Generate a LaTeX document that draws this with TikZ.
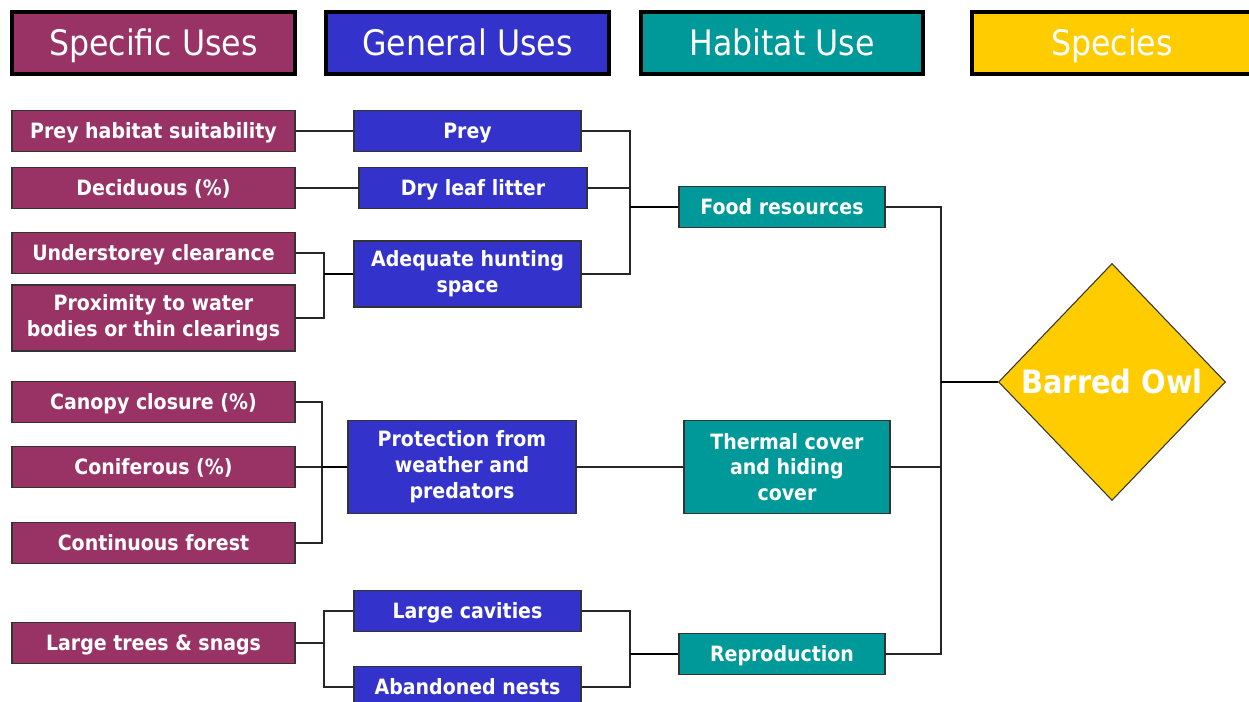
\documentclass[tikz,border=0pt]{standalone}
\usepackage{fontspec}
\setmainfont{DejaVu Sans Condensed}
\usetikzlibrary{shapes.geometric}
\definecolor{specc}{HTML}{993366}
\definecolor{genc}{HTML}{3333CC}
\definecolor{habc}{HTML}{009999}
\definecolor{spcc}{HTML}{FFCC00}
\begin{document}
\begin{tikzpicture}[x=0.02cm,y=-0.02cm,
  box/.style={draw=black!80, line width=0.7pt, text=white, font=\bfseries\fontsize{12}{14.7}\selectfont, align=center, inner sep=0pt},
  one/.style={text height=8.8pt, text depth=0pt},
  sz/.style 2 args={minimum width=#1*0.02cm, minimum height=#2*0.02cm},
  hdr/.style={draw=black, line width=2.3pt, text=white, font=\fontsize{20}{22}\selectfont, inner sep=0pt, minimum height=62*0.02cm, text height=14.6pt, text depth=0pt},
  ln/.style={black!85, line width=0.6pt},
  jn/.style={black, line width=1pt}]
\useasboundingbox (0,0) rectangle (1249,702);
\clip (0,0) rectangle (1249,702);
% headers
\node[hdr, fill=specc, minimum width=283*0.02cm] (hS) at (153.5,43) {Specific Uses};
\node[hdr, fill=genc, minimum width=283*0.02cm] (hG) at (467.5,43) {General Uses};
\node[hdr, fill=habc, minimum width=282*0.02cm] (hH) at (782,43) {Habitat Use};
\node[hdr, fill=spcc, minimum width=280*0.02cm] (hP) at (1112,43) {Species};
% specific uses
\node[box, one, fill=specc, sz={283}{41}] (s1) at (153.5,131) {Prey habitat suitability};
\node[box, one, fill=specc, sz={283}{41}] (s2) at (153.5,188) {Deciduous (\%)};
\node[box, one, fill=specc, sz={283}{41}] (s3) at (153.5,253) {Understorey clearance};
\node[box, fill=specc, sz={283}{66}] (s4) at (153.5,318) {Proximity to water\\bodies or thin clearings};
\node[box, one, fill=specc, sz={283}{41}] (s5) at (153.5,402) {Canopy closure (\%)};
\node[box, one, fill=specc, sz={283}{41}] (s6) at (153.5,467) {Coniferous (\%)};
\node[box, one, fill=specc, sz={283}{41}] (s7) at (153.5,543) {Continuous forest};
\node[box, one, fill=specc, sz={283}{41}] (s8) at (153.5,643) {Large trees \& snags};
% general uses
\node[box, one, fill=genc, sz={227}{41}] (g1) at (467.5,131) {Prey};
\node[box, one, fill=genc, sz={228}{41}] (g2) at (473,188) {Dry leaf litter};
\node[box, fill=genc, sz={227}{66}] (g3) at (467.5,274) {Adequate hunting\\space};
\node[box, fill=genc, sz={228}{93}] (g4) at (462,467) {Protection from\\weather and\\predators};
\node[box, one, fill=genc, sz={227}{41}] (g5) at (467.5,611) {Large cavities};
\node[box, one, fill=genc, sz={227}{41}] (g6) at (467.5,687) {Abandoned nests};
% habitat use
\node[box, one, fill=habc, sz={206}{41}] (t1) at (782,207) {Food resources};
\node[box, fill=habc, sz={206}{93}] (t2) at (787,467) {Thermal cover\\and hiding\\cover};
\node[box, one, fill=habc, sz={206}{41}] (t3) at (782,654) {Reproduction};
% species
\node[diamond, draw=black!80, line width=0.6pt, fill=spcc, inner sep=0pt, minimum width=227*0.02cm, minimum height=237*0.02cm,
  label={[text=white, font=\bfseries\fontsize{18.3}{20}\selectfont, text height=13.4pt, text depth=0pt]center:Barred Owl}] (owl) at (1112,382) {};
% junction points
\coordinate (j1) at (324,274);
\coordinate (j2) at (630,207);
\coordinate (j3) at (322,467);
\coordinate (j4) at (324,643);
\coordinate (j5) at (630,654);
\coordinate (j6) at (941,382);
% connectors
\draw[ln] (s1.east) -- (g1.west);
\draw[ln] (s2.east) -- (g2.west);
\draw[ln] (s3.east) -| (j1) |- (s4.east);
\draw[jn] (j1) -- (g3.west);
\draw[ln] (g1.east) -| (j2) |- (g3.east);
\draw[ln] (g2.east) -- (g2.east -| j2);
\draw[jn] (j2) -- (t1.west);
\draw[ln] (s5.east) -| (j3) |- (s7.east);
\draw[ln] (s6.east) -- (s6.east -| j3);
\draw[jn] (j3) -- (g4.west);
\draw[ln] (g4.east) -- (t2.west);
\draw[ln] (s8.east) -- (j4);
\draw[ln] (g5.west) -| (j4) |- (g6.west);
\draw[ln] (g5.east) -| (j5) |- (g6.east);
\draw[jn] (j5) -- (t3.west);
\draw[ln] (t1.east) -| (j6) |- (t3.east);
\draw[ln] (t2.east) -- (t2.east -| j6);
\draw[jn] (j6) -- (owl.west);
\end{tikzpicture}
\end{document}
